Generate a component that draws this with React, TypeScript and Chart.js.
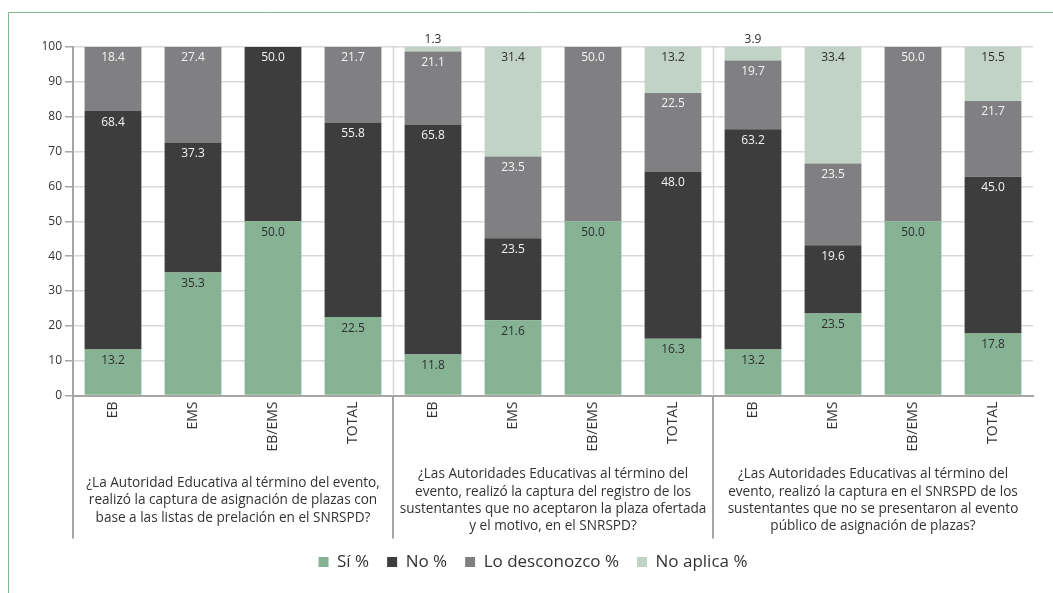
import { useEffect, useRef } from "react";
import { Chart, registerables } from "chart.js";

Chart.register(...registerables);

const categories = ["EB", "EMS", "EB/EMS", "TOTAL", "EB", "EMS", "EB/EMS", "TOTAL", "EB", "EMS", "EB/EMS", "TOTAL"];
const siValues = [13.2, 35.3, 50.0, 22.5, 11.8, 21.6, 50.0, 16.3, 13.2, 23.5, 50.0, 17.8];
const noValues = [68.4, 37.3, 50.0, 55.8, 65.8, 23.5, null, 48.0, 63.2, 19.6, null, 45.0];
const loDesconozcoValues = [18.4, 27.4, null, 21.7, 21.1, 23.5, 50.0, 22.5, 19.7, 23.5, 50.0, 21.7];
const noAplicaValues = [null, null, null, null, 1.3, 31.4, null, 13.2, 3.9, 33.4, null, 15.5];
const seriesNames = ["Sí %", "No %", "Lo desconozco %", "No aplica %"];
const seriesColors = ["#86b394", "#3d3d3d", "#808083", "#c1d3c4"];
const labelColors = ["#2e2e2e", "#f4f4f4", "#f4f4f4", "#2e2e2e"];
const groupSize = 4;
const groupQuestions = [
  [
    "¿La Autoridad Educativa al término del evento,",
    "realizó la captura de asignación de plazas con",
    "base a las listas de prelación en el SNRSPD?",
  ],
  [
    "¿Las Autoridades Educativas al término del",
    "evento, realizó la captura del registro de los",
    "sustentantes que no aceptaron la plaza ofertada",
    "y el motivo, en el SNRSPD?",
  ],
  [
    "¿Las Autoridades Educativas al término del",
    "evento, realizó la captura en el SNRSPD de los",
    "sustentantes que no se presentaron al evento",
    "público de asignación de plazas?",
  ],
];
const yMin = 0;
const yMax = 100;
const yStep = 10;

const FONT = "'Open Sans', sans-serif";

const framePlugin = {
  id: "frame",
  afterLayout(chart: any) {
    if (chart.legend) {
      chart.legend.left += 11.5;
      chart.legend.right += 11.5;
    }
  },
  beforeDraw(chart: any) {
    const ctx = chart.ctx;
    ctx.save();
    ctx.strokeStyle = "#84b68e";
    ctx.lineWidth = 1;
    ctx.beginPath();
    ctx.moveTo(8.5, chart.height);
    ctx.lineTo(8.5, 12.5);
    ctx.lineTo(chart.width, 12.5);
    ctx.stroke();
    ctx.restore();
  },
};

const groupPlugin = {
  id: "groups",
  beforeDatasetsDraw(chart: any) {
    const { ctx, chartArea } = chart;
    const x = chart.scales.x;
    ctx.save();
    ctx.strokeStyle = "#d6d6d6";
    ctx.lineWidth = 1.5;
    for (let g = 1; g < groupQuestions.length; g++) {
      const i = g * groupSize;
      const bx = Math.round((x.getPixelForTick(i - 1) + x.getPixelForTick(i)) / 2) + 0.5;
      ctx.beginPath();
      ctx.moveTo(bx, chartArea.top);
      ctx.lineTo(bx, chartArea.bottom);
      ctx.stroke();
    }
    ctx.restore();
  },
  afterDraw(chart: any) {
    const { ctx, chartArea } = chart;
    const x = chart.scales.x;
    const bottom = chartArea.bottom + 143;
    ctx.save();
    ctx.strokeStyle = "#a5a5a5";
    ctx.lineWidth = 2;
    const bounds: number[] = [chartArea.left];
    for (let g = 1; g < groupQuestions.length; g++) {
      const i = g * groupSize;
      bounds.push((x.getPixelForTick(i - 1) + x.getPixelForTick(i)) / 2);
    }
    bounds.forEach((bx, k) => {
      const px = k === 0 ? bx : Math.round(bx);
      ctx.beginPath();
      ctx.moveTo(px, chartArea.bottom);
      ctx.lineTo(px, bottom);
      ctx.stroke();
    });
    ctx.fillStyle = "#333333";
    ctx.font = `13.6px ${FONT}`;
    ctx.textAlign = "center";
    ctx.textBaseline = "middle";
    const lineH = 17.4;
    const cy = chartArea.bottom + 105;
    groupQuestions.forEach((lines, g) => {
      const cx = (x.getPixelForTick(g * groupSize) + x.getPixelForTick(g * groupSize + groupSize - 1)) / 2;
      const start = cy - ((lines.length - 1) * lineH) / 2;
      lines.forEach((t, k) => ctx.fillText(t, cx, start + k * lineH));
    });
    ctx.restore();
  },
};

const dataLabelPlugin = {
  id: "dataLabels",
  afterDatasetsDraw(chart: any) {
    const ctx = chart.ctx;
    ctx.save();
    ctx.font = `12px ${FONT}`;
    ctx.textAlign = "center";
    ctx.textBaseline = "middle";
    chart.data.datasets.forEach((ds: any, di: number) => {
      const meta = chart.getDatasetMeta(di);
      if (meta.hidden) return;
      meta.data.forEach((el: any, i: number) => {
        const v = ds.data[i];
        if (v == null || v === 0) return;
        const { x, y } = el.getProps(["x", "y"], true);
        const txt = Number(v).toFixed(1);
        if (v < 5) {
          ctx.fillStyle = "#2e2e2e";
          ctx.fillText(txt, x, y - 7);
        } else {
          ctx.fillStyle = labelColors[di];
          ctx.fillText(txt, x, y + 11);
        }
      });
    });
    ctx.restore();
  },
};

export default function App() {
  const canvasRef = useRef<HTMLCanvasElement | null>(null);

  useEffect(() => {
    if (!canvasRef.current) return;
    const seriesData = [siValues, noValues, loDesconozcoValues, noAplicaValues];
    const chart = new Chart(canvasRef.current, {
      type: "bar",
      data: {
        labels: categories,
        datasets: seriesData.map((d, k) => ({
          label: seriesNames[k],
          data: d as any,
          backgroundColor: seriesColors[k],
          borderWidth: 0,
          categoryPercentage: 1,
          barPercentage: 0.71,
        })),
      },
      options: {
        animation: false,
        responsive: true,
        maintainAspectRatio: false,
        layout: { padding: { left: 10, right: 20, top: 47, bottom: 12.5 } },
        plugins: {
          tooltip: { enabled: false },
          legend: {
            position: "bottom",
            labels: {
              boxWidth: 10,
              boxHeight: 10,
              padding: 18,
              color: "#333333",
              font: { family: FONT, size: 17 },
            },
          },
        },
        scales: {
          x: {
            stacked: true,
            grid: { display: false, drawTicks: false },
            border: { display: true, color: "#a5a5a5", width: 2 },
            ticks: {
              autoSkip: false,
              minRotation: 90,
              maxRotation: 90,
              padding: 6,
              color: "#333333",
              font: { family: FONT, size: 14 },
            },
            afterFit: (scale: any) => {
              scale.height = 140;
            },
          },
          y: {
            stacked: true,
            min: yMin,
            max: yMax,
            ticks: {
              stepSize: yStep,
              padding: 3,
              color: "#333333",
              font: { family: FONT, size: 12 },
            },
            grid: {
              color: "#d9d9d9",
              lineWidth: 1.5,
              tickColor: "#a5a5a5",
              tickLength: 8,
              tickWidth: 1.5,
            },
            border: { display: true, color: "#a5a5a5", width: 2 },
            afterFit: (scale: any) => {
              scale.width = 63;
            },
          },
        },
      },
      plugins: [framePlugin, groupPlugin, dataLabelPlugin],
    });
    return () => chart.destroy();
  }, []);

  return (
    <div style={{ position: "absolute", left: 0, top: 0, width: 1053, height: 593 }}>
      <canvas ref={canvasRef} />
    </div>
  );
}
